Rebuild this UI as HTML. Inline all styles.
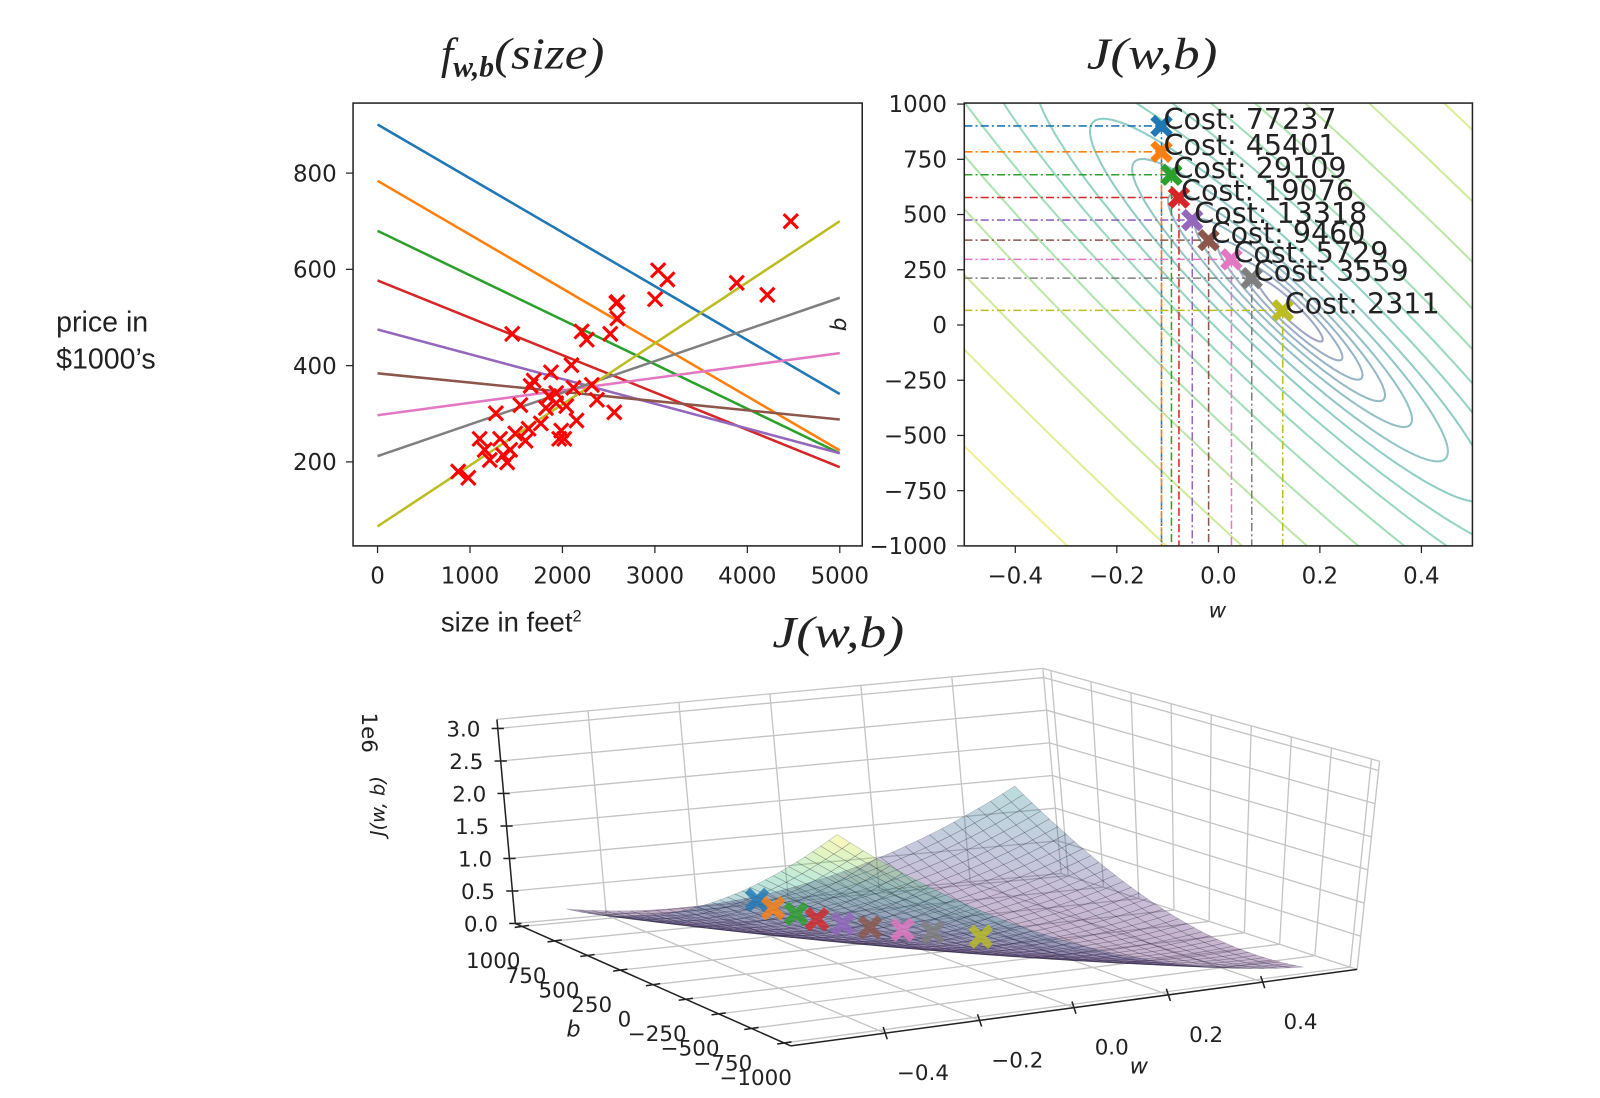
<!DOCTYPE html>
<html><head><meta charset="utf-8"><style>
html,body{margin:0;padding:0;background:#fff;width:1600px;height:1098px;overflow:hidden;}
svg{display:block;position:absolute;left:0;top:0;}
text{font-family:"DejaVu Sans","Liberation Sans",sans-serif;fill:#222;}
.ser{font-family:"Liberation Serif",serif;font-style:italic;}
</style></head><body>
<svg id="fig" width="1600" height="1098" viewBox="0 0 1600 1098" xmlns="http://www.w3.org/2000/svg">
<defs>
<clipPath id="clipL"><rect x="346" y="101" width="499" height="434"/></clipPath>
<clipPath id="clipC"><rect x="945" y="101" width="498" height="434"/></clipPath>
</defs>
<g transform="scale(1.0204)">
<g>
<text x="55" y="325" font-size="28" style="font-family:'Liberation Sans',sans-serif">price in</text>
<text x="55" y="361" font-size="28" style="font-family:'Liberation Sans',sans-serif">$1000’s</text>
<text x="432" y="619" font-size="27" style="font-family:'Liberation Sans',sans-serif">size in feet<tspan font-size="16" dy="-10">2</tspan></text>
</g>
<text class="ser" x="432" y="67" font-size="44">f<tspan font-size="29" font-weight="bold" dy="8">w,b</tspan><tspan dy="-8" textLength="108" lengthAdjust="spacingAndGlyphs">(size)</tspan></text>
<text class="ser" x="1065" y="67" font-size="44" textLength="128" lengthAdjust="spacingAndGlyphs">J(w,b)</text>
<text class="ser" x="757" y="634" font-size="44" textLength="129" lengthAdjust="spacingAndGlyphs">J(w,b)</text>
<g id="left"></g>
<g id="cont"></g>
<g id="s3d"></g>
</g>
</svg>
<script>
const sizes=[872,982,1457,1104,1159,1214,1280,1325,1358,1402,1435,1490,1545,1600,1656,1689,1766,1821,1854,1932,1965,1987,2020,2042,2097,2119,2152,2208,2263,2318,2373,2517,2594,2583,2561,2594,3002,3035,3135,3885,4216,4470,1876,1932,1634];
const prices=[180,167,466,248,225,204,301,248,214,199,225,259,318,244,358,369,280,312,337,343,248,265,248,316,401,354,286,471,454,360,329,466,498,530,303,532,538,598,579,572,547,700,386,322,269];
const lineW=[-0.112,-0.112,-0.0924,-0.0776,-0.0514,-0.0192,0.0258,0.0658,0.1268];
const lineB=[901,784,680,577,475,384,297,212,66];
const costs=[77237,45401,29109,19076,13318,9460,5729,3559,2311];
const levels=[1500,2200,3500,5500,8500,13000,20000,32000,50000,80000,125000,200000,320000,500000,800000,1250000,2000000,3000000];
const xTicks=[0,1000,2000,3000,4000,5000];
const yTicks=[200,400,600,800];
const wTicks=[-0.4,-0.2,0.0,0.2,0.4];
const bTicks=[1000,750,500,250,0,-250,-500,-750,-1000];
const zTicks=[0,0.5,1.0,1.5,2.0,2.5,3.0];
const colors=['#1f77b4','#ff7f0e','#2ca02c','#d62728','#9467bd','#8c564b','#e377c2','#7f7f7f','#bcbd22'];
const NS='http://www.w3.org/2000/svg';
function mk(parent,tag,attrs,txt){const e=document.createElementNS(NS,tag);for(const k in attrs)e.setAttribute(k,attrs[k]);if(txt!==undefined)e.textContent=txt;parent.appendChild(e);return e;}
function fmt(v){return (v<0?'\u2212':'')+Math.abs(v);}
function fmt1(v){return (v<0?'\u2212':'')+Math.abs(v).toFixed(1);}
const VIR=[[68,1,84],[72,40,120],[62,74,137],[49,104,142],[38,130,142],[31,158,137],[53,183,121],[109,205,89],[180,222,44],[253,231,37]];
function viridis(t){t=Math.max(0,Math.min(1,t));const p=t*(VIR.length-1);const i=Math.min(VIR.length-2,Math.floor(p));const f=p-i;const c=VIR[i].map((v,k)=>Math.round(v+(VIR[i+1][k]-v)*f));return 'rgb('+c.join(',')+')';}
function xMarkPath(cx,cy,r){const a=r*0.42;const pts=[[-a,0],[-r,-r+a],[-r+a,-r],[0,-a],[r-a,-r],[r,-r+a],[a,0],[r,r-a],[r-a,r],[0,a],[-r+a,r],[-r,r-a]];return 'M'+pts.map(p=>(cx+p[0]).toFixed(1)+','+(cy+p[1]).toFixed(1)).join('L')+'Z';}
function J(w,b){let s=0;for(let i=0;i<sizes.length;i++){const e=w*sizes[i]+b-prices[i];s+=e*e;}return s/(2*sizes.length);}

// ---------- left chart ----------
const L=document.getElementById('left');
const lx=x=>370+x*0.0906, ly=y=>547-y*0.4717;
let e=mk(L,'rect',{x:346,y:101,width:499,height:434,fill:'#fff',stroke:'#222','stroke-width':1.5});

const lc=mk(L,'g',{'clip-path':'url(#clipL)'});
lineW.forEach((w,i)=>{const l=mk(lc,'line',{x1:lx(0),y1:ly(lineB[i]),x2:lx(5000),y2:ly(w*5000+lineB[i]),stroke:colors[i],'stroke-width':2.5});

});
sizes.forEach((s,i)=>{const cx=lx(s),cy=ly(prices[i]),r=7;const p=mk(lc,'path',{d:`M${cx-r},${cy-r}L${cx+r},${cy+r}M${cx-r},${cy+r}L${cx+r},${cy-r}`,stroke:'#f00','stroke-width':3,fill:'none'});

});
xTicks.forEach(t=>{mk(L,'line',{x1:lx(t),y1:535,x2:lx(t),y2:542,stroke:'#222','stroke-width':1.2});const tx=mk(L,'text',{x:lx(t),y:572,'font-size':22.5,'text-anchor':'middle'},String(t));

});
yTicks.forEach(t=>{mk(L,'line',{x1:339,y1:ly(t),x2:346,y2:ly(t),stroke:'#222','stroke-width':1.2});const tx=mk(L,'text',{x:330,y:ly(t)+8,'font-size':22.5,'text-anchor':'end'},String(t));

});

// ---------- contour chart ----------
const C=document.getElementById('cont');
const cx_=w=>1194+w*497.5, cy_=b=>318.5-b*0.2165;
const cc=mk(C,'g',{'clip-path':'url(#clipC)'});
(function(){const m=sizes.length;let mx=0,mxx=0,my=0,mxy=0;for(let i=0;i<m;i++){mx+=sizes[i];mxx+=sizes[i]*sizes[i];my+=prices[i];mxy+=sizes[i]*prices[i];}
mx/=m;mxx/=m;my/=m;mxy/=m;const det=mxx-mx*mx;const w0=(mxy-mx*my)/det;const b0=my-mx*w0;const Jmin=J(w0,b0);
const a=mxx,c=mx,d=1;const l1=(a+d)/2+Math.sqrt(((a-d)/2)**2+c*c);const l2=det/l1;
let e1=[l1-d,c];let n1=Math.hypot(e1[0],e1[1]);e1=[e1[0]/n1,e1[1]/n1];
let e2=[c,l2-a];let n2=Math.hypot(e2[0],e2[1]);e2=[e2[0]/n2,e2[1]/n2];
levels.forEach((Lv,k)=>{if(Lv<=Jmin)return;const r1=Math.sqrt(2*(Lv-Jmin)/l1),r2=Math.sqrt(2*(Lv-Jmin)/l2);let pts=[];
for(let j=0;j<=360;j++){const th=j/360*2*Math.PI;const w=w0+r1*Math.cos(th)*e1[0]+r2*Math.sin(th)*e2[0];const b=b0+r1*Math.cos(th)*e1[1]+r2*Math.sin(th)*e2[1];pts.push(cx_(w).toFixed(1)+','+cy_(b).toFixed(1));}
const pl=mk(cc,'polyline',{points:pts.join(' '),fill:'none',stroke:viridis(0.15+0.85*Math.log(Lv/levels[0])/Math.log(levels[levels.length-1]/levels[0])),'stroke-width':2,'stroke-opacity':0.5});

});})();
lineW.forEach((w,i)=>{const X=cx_(w),Y=cy_(lineB[i]);
mk(cc,'line',{x1:945,y1:Y,x2:X,y2:Y,stroke:colors[i],'stroke-width':1.5,'stroke-dasharray':'8,3,2,3'});
mk(cc,'line',{x1:X,y1:Y,x2:X,y2:535,stroke:colors[i],'stroke-width':1.5,'stroke-dasharray':'8,3,2,3'});});
lineW.forEach((w,i)=>{const X=cx_(w),Y=cy_(lineB[i]);const p=mk(C,'path',{d:xMarkPath(X,Y,11),fill:colors[i]});

});
lineW.forEach((w,i)=>{const t=mk(C,'text',{x:cx_(w)+2,y:cy_(lineB[i])+3,'font-size':28},'Cost: '+costs[i]);

});
e=mk(C,'rect',{x:945,y:101,width:498,height:434,fill:'none',stroke:'#222','stroke-width':1.5});

wTicks.forEach(t=>{mk(C,'line',{x1:cx_(t),y1:535,x2:cx_(t),y2:542,stroke:'#222','stroke-width':1.2});const tx=mk(C,'text',{x:cx_(t),y:572,'font-size':22.5,'text-anchor':'middle'},fmt1(t));

});
bTicks.forEach(t=>{mk(C,'line',{x1:938,y1:cy_(t),x2:945,y2:cy_(t),stroke:'#222','stroke-width':1.2});const tx=mk(C,'text',{x:928,y:cy_(t)+8,'font-size':22.5,'text-anchor':'end'},fmt(t));

});
e=mk(C,'text',{x:1193,y:605,'font-size':21,'text-anchor':'middle','font-style':'italic'},'w');
e=mk(C,'text',{x:0,y:0,'font-size':21,'text-anchor':'middle','font-style':'italic',transform:'translate(829,318) rotate(-90)'},'b');

// ---------- 3D surface ----------
const S=document.getElementById('s3d');
const A=[505,905],D=[1040,856],B=[775,1025],Cc=[1330,950];
const At=[487,705],Dt=[1022,655],Bt=[780,815],Ct=[1352,746];
const ZMAX=3.14e6;
function bil(p00,p10,p01,p11,s,t){return [p00[0]*(1-s)*(1-t)+p10[0]*s*(1-t)+p01[0]*(1-s)*t+p11[0]*s*t,p00[1]*(1-s)*(1-t)+p10[1]*s*(1-t)+p01[1]*(1-s)*t+p11[1]*s*t];}
function P(w,b,z){const s=(w+0.6)/1.2,t=(1050-b)/2100;const f=bil(A,D,B,Cc,s,t),g=bil(At,Dt,Bt,Ct,s,t);const k=z/ZMAX;return [f[0]+(g[0]-f[0])*k,f[1]+(g[1]-f[1])*k];}
function ln(g,p,q,st,sw){return mk(g,'line',{x1:p[0].toFixed(1),y1:p[1].toFixed(1),x2:q[0].toFixed(1),y2:q[1].toFixed(1),stroke:st,'stroke-width':sw});}
const grid=mk(S,'g',{});
const GC='#c4c4c4';
zTicks.forEach(z=>{ln(grid,P(-0.6,1050,z*1e6),P(0.6,1050,z*1e6),GC,1.3);ln(grid,P(0.6,1050,z*1e6),P(0.6,-1050,z*1e6),GC,1.3);});
wTicks.forEach(w=>{ln(grid,P(w,1050,0),P(w,1050,ZMAX),GC,1.3);ln(grid,P(w,1050,0),P(w,-1050,0),GC,1.3);});
bTicks.forEach(b=>{ln(grid,P(0.6,b,0),P(0.6,b,ZMAX),GC,1.3);ln(grid,P(-0.6,b,0),P(0.6,b,0),GC,1.3);});
ln(grid,P(-0.6,1050,ZMAX),P(0.6,1050,ZMAX),GC,1.3);ln(grid,P(0.6,1050,ZMAX),P(0.6,-1050,ZMAX),GC,1.3);
ln(grid,P(0.6,1050,0),P(0.6,1050,ZMAX),GC,1.3);ln(grid,P(0.6,-1050,0),P(0.6,-1050,ZMAX),GC,1.3);
// surface
const surf=mk(S,'g',{});
(function(){const N=36;const cells=[];const Z=[];for(let i=0;i<=N;i++){Z.push([]);for(let j=0;j<=N;j++){Z[i].push(J(-0.5+i/N,1000-2000*j/N));}}
for(let i=0;i<N;i++)for(let j=0;j<N;j++)cells.push([i,j]);
cells.sort((a,b)=>((b[0]-b[1])-(a[0]-a[1])));
cells.forEach(([i,j])=>{const ws=[-0.5+i/N,-0.5+(i+1)/N],bs=[1000-2000*j/N,1000-2000*(j+1)/N];
const pts=[P(ws[0],bs[0],Z[i][j]),P(ws[1],bs[0],Z[i+1][j]),P(ws[1],bs[1],Z[i+1][j+1]),P(ws[0],bs[1],Z[i][j+1])];
const avg=(Z[i][j]+Z[i+1][j]+Z[i+1][j+1]+Z[i][j+1])/4;
mk(surf,'polygon',{points:pts.map(p=>p[0].toFixed(1)+','+p[1].toFixed(1)).join(' '),fill:viridis(avg/3.0e6),'fill-opacity':0.3,stroke:'rgba(30,30,50,0.25)','stroke-width':0.6});});})();
lineW.forEach((w,i)=>{const p=P(w,lineB[i],costs[i]);const m=mk(S,'path',{d:xMarkPath(p[0],p[1]-6,12),fill:colors[i],'fill-opacity':0.8});

});
// axes
const ax=mk(S,'g',{});
ln(ax,P(-0.6,1050,0),P(-0.6,1050,ZMAX),'#222',1.5);
ln(ax,P(-0.6,1050,0),P(-0.6,-1050,0),'#222',1.5);
ln(ax,P(-0.6,-1050,0),P(0.6,-1050,0),'#222',1.5);
zTicks.forEach(z=>{const p=P(-0.6,1050,z*1e6);ln(ax,[p[0]-6,p[1]],[p[0]+6,p[1]],'#222',1.5);const t=mk(ax,'text',{x:p[0]-17,y:p[1]+8,'font-size':21,'text-anchor':'end'},z.toFixed(1));

});
bTicks.forEach(b=>{const p=P(-0.6,b,0);ln(ax,[p[0]-7,p[1]+1],[p[0]+7,p[1]-1],'#222',1.5);const t=mk(ax,'text',{x:p[0]-28,y:p[1]+41,'font-size':21,'text-anchor':'middle'},fmt(b));

});
wTicks.forEach(w=>{const p=P(w,-1050,0);ln(ax,[p[0]-2,p[1]-6],[p[0]+2,p[1]+6],'#222',1.5);const t=mk(ax,'text',{x:p[0]+37,y:p[1]+46,'font-size':21,'text-anchor':'middle'},fmt1(w));

});
e=mk(S,'text',{x:562,y:1016,'font-size':22,'text-anchor':'middle','font-style':'italic'},'b');
e=mk(S,'text',{x:1116,y:1052,'font-size':22,'text-anchor':'middle','font-style':'italic'},'w');
e=mk(S,'text',{x:0,y:0,'font-size':19,'text-anchor':'middle','font-style':'italic',transform:'translate(377,790) rotate(-90)'},'J(w, b)');
e=mk(S,'text',{x:0,y:0,'font-size':21,'text-anchor':'middle',transform:'translate(355,718) rotate(90)'},'1e6');
</script>
</body></html>
